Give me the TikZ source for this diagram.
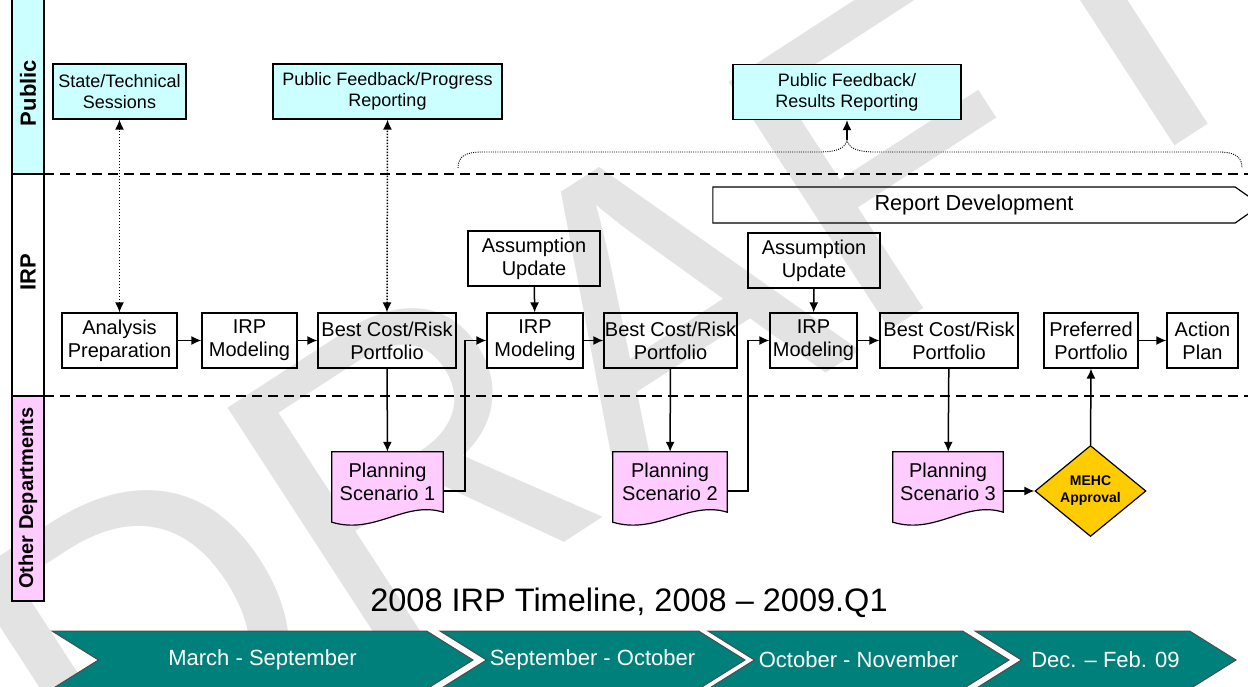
\documentclass[tikz,border=0pt]{standalone}
\usepackage{fontspec}
\setmainfont{Liberation Sans}
\usetikzlibrary{arrows.meta, positioning, shapes.geometric, shapes.symbols, calc, backgrounds}

\definecolor{publicfill}{HTML}{CCFFFF}
\definecolor{otherfill}{HTML}{FFCCFF}
\definecolor{approvalfill}{HTML}{FFCC00}
\definecolor{phasefill}{RGB}{0,128,122}

\tikzset{
  lanelabel/.style={rotate=90, font=\fontsize{22}{22}\selectfont\bfseries},
  task/.style={draw, line width=1.2pt, align=center, minimum height=55pt, inner sep=1pt, font=\fontsize{20}{23}\selectfont},
  pubtask/.style={task, fill=publicfill, font=\fontsize{18}{21}\selectfont},
  scenario/.style={align=center, minimum height=60pt, minimum width=111pt, inner sep=1pt, font=\fontsize{20}{23}\selectfont},
  approval/.style={diamond, draw, line width=1.2pt, fill=approvalfill, align=center, aspect=1.22, minimum width=111pt, minimum height=91pt, inner sep=0pt, font=\fontsize{14}{17}\selectfont\bfseries},
  phase/.style={signal, signal from=west, signal to=east, signal pointer angle=64, fill=phasefill, draw=black!70, line width=1pt, minimum height=58pt, text=white, font=\fontsize{22}{24}\selectfont},
  conn/.style={-{Latex[length=10pt,width=9pt]}, line width=1.5pt},
  feedback/.style={{Latex[length=10pt,width=9pt]}-{Latex[length=10pt,width=9pt]}, line width=1.5pt, dash pattern=on 1.5pt off 1.5pt},
  lanesep/.style={line width=2.6pt, dash pattern=on 10pt off 6pt},
}

\begin{document}
\begin{tikzpicture}[x=1pt, y=-1pt]
    \useasboundingbox (0,0) rectangle (1248,687);

    % watermark behind everything
    \begin{scope}[on background layer]
        \node[rotate=33, text=black!11, font=\fontsize{430}{430}\selectfont] (wm) at (620,330) {DRAFT};
    \end{scope}

    % swim lanes
    \draw[line width=1.5pt, fill=publicfill] (12,-5) rectangle (44,174);
    \draw[line width=1.5pt] (12,174) rectangle (44,396);
    \draw[line width=1.5pt, fill=otherfill] (12,396) rectangle (44,601);
    \node[lanelabel] (lpub) at (28,93) {Public};
    \node[lanelabel] (lirp) at (28,272) {IRP};
    \node[lanelabel, font=\fontsize{20}{20}\selectfont\bfseries] (loth) at (28,498) {Other Departments};
    \draw[lanesep] (44,174) -- (1248,174);
    \draw[lanesep] (44,396) -- (1248,396);

    % public lane
    \node[pubtask, minimum width=133pt] (stech) at (119.5,91.5) {State/Technical\\Sessions};
    \node[pubtask, minimum width=229pt] (pfp) at (387.5,91.5) {Public Feedback/Progress\\Reporting};
    \node[pubtask, minimum width=228pt] (pfr) at (847,92) {Public Feedback/\\Results Reporting};

    % IRP lane
    \node[signal, signal to=east, signal pointer angle=70, draw, line width=1.2pt,
          minimum width=548pt, minimum height=36pt, font=\fontsize{21.7}{24}\selectfont] (rd) at (974,205) {Report Development};
    \node[task, minimum width=115pt] (ap) at (119.5,340.5) {Analysis\\Preparation};
    \node[task, minimum width=95pt] (irp1) at (249.5,340.5) {IRP\\Modeling};
    \node[task, minimum width=138pt] (bcr1) at (387,340.5) {Best Cost/Risk\\Portfolio};
    \node[task, minimum width=132pt] (au1) at (534,258.5) {Assumption\\Update};
    \node[task, minimum width=96pt] (irp2) at (535,340.5) {IRP\\Modeling};
    \node[task, minimum width=133pt] (bcr2) at (670.5,340.5) {Best Cost/Risk\\Portfolio};
    \node[task, minimum width=132pt] (au2) at (814,260.5) {Assumption\\Update};
    \node[task, minimum width=87pt] (irp3) at (813.5,340.5) {IRP\\Modeling};
    \node[task, minimum width=138pt] (bcr3) at (949,340.5) {Best Cost/Risk\\Portfolio};
    \node[task, minimum width=94pt] (pref) at (1091,340.5) {Preferred\\Portfolio};
    \node[task, minimum width=71pt] (act) at (1202.5,340.5) {Action\\Plan};

    % other departments lane
    \node[scenario] (ps1) at (387.5,482) {Planning\\Scenario 1};
    \node[scenario, minimum width=114pt] (ps2) at (670,482) {Planning\\Scenario 2};
    \node[scenario, minimum width=110pt] (ps3) at (948,482) {Planning\\Scenario 3};
    \node[approval] (mehc) at (1090.5,491) {MEHC\\Approval};

    % document outlines for the scenarios
    \begin{scope}[on background layer]
        \foreach \s in {ps1,ps2,ps3}
            \filldraw[fill=otherfill, line width=1.2pt] (\s.south west) -- (\s.north west) -- (\s.north east) -- (\s.south east)
                .. controls +(-38,-12) and +(43,13) .. ($(\s.south west)+(0,10)$) -- cycle;
    \end{scope}

    % flow
    \draw[conn] (ap) -- (irp1);
    \draw[conn] (irp1) -- (bcr1);
    \draw[conn] (irp2) -- (bcr2);
    \draw[conn] (irp3) -- (bcr3);
    \draw[conn] (pref) -- (act);
    \draw[conn] (au1) -- (irp2);
    \draw[conn] (au2) -- (irp3);
    \draw[conn] (bcr1) -- (ps1);
    \draw[conn] (bcr2) -- (ps2);
    \draw[conn] (bcr3) -- (ps3);
    \draw[conn] ([yshift=-9pt]ps1.east) -- ++(22,0) |- (irp2.west);
    \draw[conn] ([yshift=-9pt]ps2.east) -- ++(21,0) |- (irp3.west);
    \draw[conn] ([yshift=-9pt]ps3.east) -- (mehc.west);
    \draw[conn] (mehc.north) -- (pref.south);

    % links to the public lane
    \draw[feedback] (ap.north) -- (stech.south);
    \draw[feedback] (bcr1.north) -- (pfp.south);
    \coordinate (bracetip) at (847,140);
    \draw[line width=0.9pt, dash pattern=on 1pt off 1.2pt]
        (458,168) .. controls (458,156) and (466,152) .. (482,152) -- (818,152)
        .. controls (836,152) and (845,149) .. (bracetip)
        .. controls (849,149) and (858,152) .. (876,152) -- (1218,152)
        .. controls (1234,152) and (1242,156) .. (1242,168);
    \draw[conn] (bracetip) -- (pfr.south);

    % timeline
    \node[font=\fontsize{32.5}{33}\selectfont] (title) at (629,603) {2008 IRP Timeline, 2008 -- 2009.Q1};
    \node[phase, minimum width=421pt] (ph1) at (262.5,660) {March - September};
    \node[phase, minimum width=301pt] (ph2) at (592.5,660) {September - October};
    \node[phase, minimum width=301pt] (ph3) at (858.5,660) {October - November};
    \node[phase, minimum width=261pt] (ph4) at (1105.5,660) {Dec. -- Feb. 09};
\end{tikzpicture}
\end{document}
